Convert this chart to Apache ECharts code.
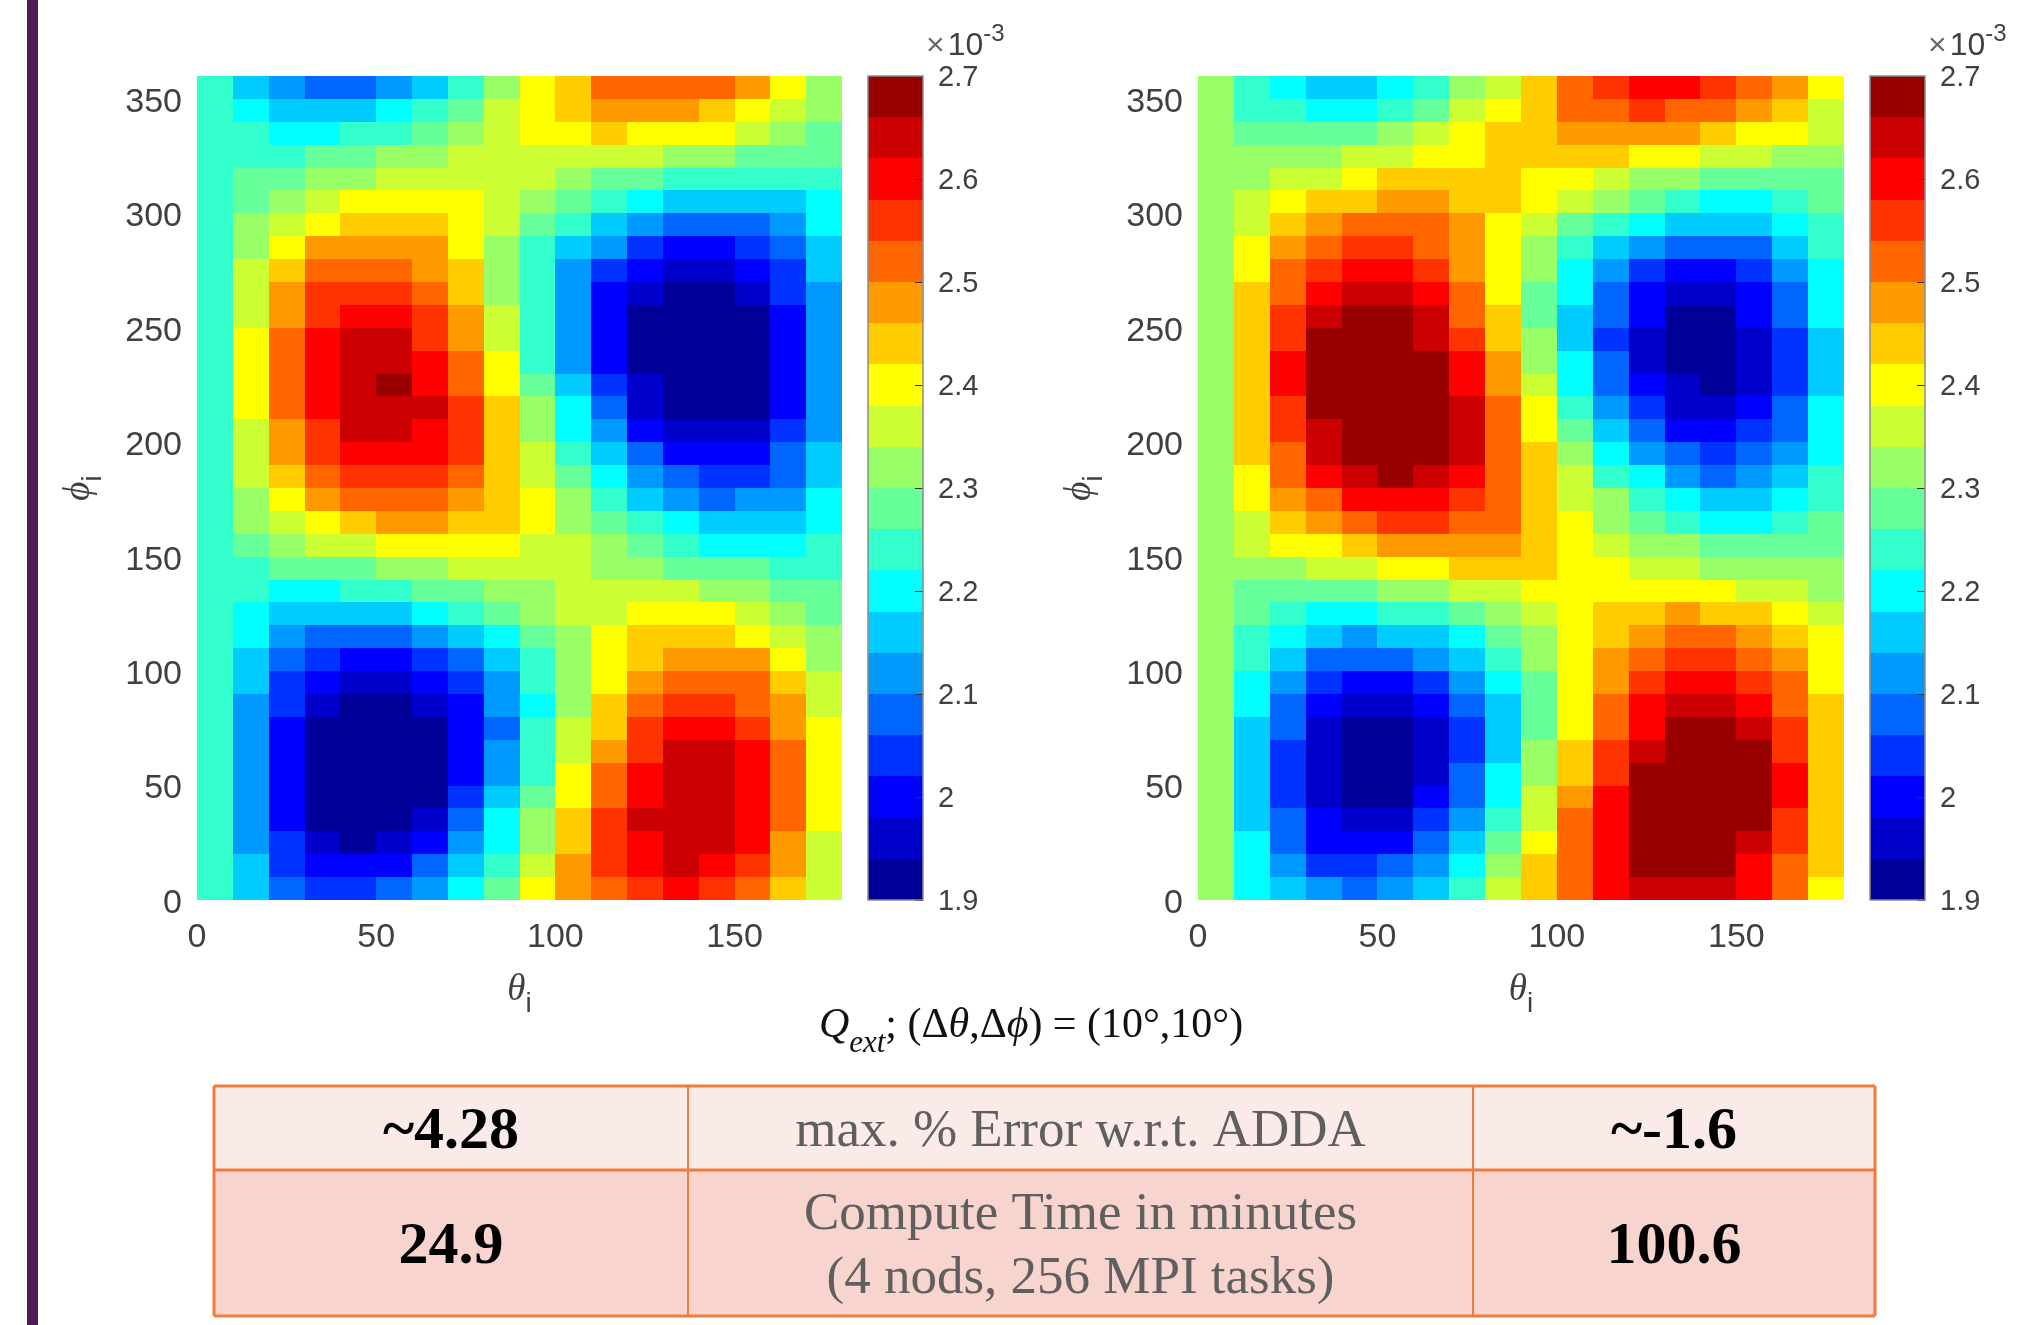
<!DOCTYPE html>
<html><head><meta charset="utf-8">
<style>html,body{margin:0;padding:0;background:#fff}#c{width:2017px;height:1325px}</style>
<script src="https://cdn.jsdelivr.net/npm/echarts@6/dist/echarts.min.js"></script>
</head><body><div id="c"></div>
<script>
// Values are in units of 1e-5; rows run from phi = 350-360 (first) down to phi = 0-10 (last).
const leftValues = [
[224,216,212,208,208,212,216,224,232,240,244,252,252,252,252,248,240,232],
[224,220,216,216,216,220,224,228,236,240,244,248,248,248,244,240,236,232],
[224,224,220,220,224,224,228,232,236,240,240,244,240,240,240,236,232,228],
[224,224,224,228,228,232,232,236,236,236,236,236,236,232,232,228,228,228],
[224,228,228,232,232,236,236,236,236,236,232,228,228,224,224,224,224,224],
[224,228,232,236,240,240,240,240,236,232,228,224,220,216,216,216,216,220],
[224,232,236,240,244,244,244,240,236,228,224,216,212,208,208,208,212,220],
[224,232,240,248,248,248,248,240,232,224,216,212,204,200,200,204,208,216],
[224,236,244,252,252,252,248,244,232,224,212,204,200,196,196,200,204,216],
[224,236,248,256,256,256,252,244,232,224,212,200,196,192,192,196,204,212],
[224,236,248,256,260,260,256,248,236,224,212,200,192,192,192,192,200,212],
[224,240,252,260,264,264,256,248,236,224,212,200,192,192,192,192,200,212],
[224,240,252,260,264,264,260,252,240,224,212,200,192,192,192,192,200,212],
[224,240,252,260,264,268,260,252,240,228,216,204,196,192,192,192,200,212],
[224,240,252,260,264,264,264,256,244,232,220,208,196,192,192,192,200,212],
[224,236,248,256,264,264,260,256,244,232,220,212,200,196,196,196,204,212],
[224,236,248,256,260,260,260,256,244,236,224,216,208,200,200,200,208,216],
[224,236,244,252,256,256,256,252,244,236,228,220,212,208,204,204,208,216],
[224,232,240,248,252,252,252,248,244,240,232,224,216,212,208,212,212,220],
[224,232,236,240,244,248,248,244,244,240,232,228,224,220,216,216,216,220],
[224,228,232,236,236,240,240,240,240,236,236,232,228,224,220,220,220,224],
[224,224,228,228,228,232,232,236,236,236,236,232,232,228,228,228,224,224],
[224,224,220,220,224,224,228,228,232,232,236,236,236,236,232,232,228,228],
[224,220,216,216,216,216,220,224,228,232,236,236,240,240,240,236,232,228],
[224,220,212,208,208,208,212,216,220,228,232,240,244,244,244,240,236,232],
[224,216,208,204,200,200,204,208,216,224,232,240,244,248,248,248,240,232],
[224,216,204,200,196,196,200,204,212,224,232,240,248,252,252,252,244,236],
[224,212,204,196,192,192,196,200,212,220,232,244,252,256,256,252,248,236],
[224,212,200,192,192,192,192,200,208,224,236,244,256,260,260,256,248,240],
[224,212,200,192,192,192,192,200,212,224,236,248,256,264,264,260,252,240],
[224,212,200,192,192,192,192,200,212,224,240,252,260,264,264,260,252,240],
[224,212,200,192,192,192,192,204,216,228,240,252,260,264,264,260,252,240],
[224,212,200,192,192,192,196,208,220,232,244,256,264,264,264,260,252,240],
[224,212,204,196,192,196,200,212,220,232,244,256,260,264,264,260,248,236],
[224,216,204,200,200,200,208,216,224,236,248,256,260,264,260,256,248,236],
[224,216,208,204,204,208,212,220,228,240,248,252,256,260,256,252,244,236]
];
const rightValues = [
[232,224,220,216,216,220,224,232,236,244,252,256,260,260,256,252,248,240],
[232,224,224,220,220,224,228,236,240,244,252,252,256,252,252,248,244,236],
[232,228,228,228,228,232,236,240,244,244,248,248,248,248,244,240,240,236],
[232,232,232,232,236,236,240,240,244,244,244,244,240,240,236,236,232,232],
[232,232,236,236,240,244,244,244,244,240,240,236,232,232,228,228,228,228],
[232,236,240,244,244,248,248,244,244,240,236,232,228,224,220,220,224,228],
[232,236,244,248,252,252,252,248,240,236,228,224,220,216,216,216,220,224],
[232,240,248,252,256,256,252,248,240,232,224,216,212,208,208,208,216,224],
[232,240,252,256,260,260,256,248,240,232,220,212,204,200,200,204,212,220],
[232,244,252,260,264,264,260,252,240,228,220,208,200,196,196,200,208,220],
[232,244,256,264,268,268,264,252,244,228,216,208,200,192,192,200,208,220],
[232,244,256,268,268,268,264,256,244,232,216,204,196,192,192,196,204,216],
[232,244,260,268,268,268,268,260,248,232,220,208,196,192,192,196,204,216],
[232,244,260,268,268,268,268,260,248,236,220,208,200,196,192,196,204,216],
[232,244,256,268,268,268,268,264,252,240,224,212,204,196,196,200,208,220],
[232,244,256,264,268,268,268,264,252,240,228,216,208,200,200,204,208,220],
[232,244,252,264,268,268,268,264,252,244,232,220,212,208,204,208,212,220],
[232,240,252,260,264,268,264,260,252,244,236,224,220,212,208,212,216,224],
[232,240,248,252,260,260,260,256,252,244,236,232,224,220,216,216,220,224],
[232,236,244,248,252,256,256,252,252,244,240,232,228,224,220,220,224,228],
[232,236,240,240,244,248,248,248,248,244,240,236,232,232,228,228,228,228],
[232,232,232,236,236,240,240,244,244,244,240,240,236,236,232,232,232,232],
[232,228,228,228,228,232,232,236,236,240,240,240,240,240,240,236,236,232],
[232,228,224,220,220,224,224,228,232,236,240,244,244,248,244,244,240,236],
[232,224,220,216,212,216,216,220,228,232,240,244,248,252,252,248,244,240],
[232,224,216,208,208,208,212,216,224,232,240,248,252,256,256,252,248,240],
[232,220,212,204,200,200,204,212,220,228,240,248,256,260,260,256,252,240],
[232,220,208,200,196,196,200,208,216,228,240,252,260,264,264,260,252,244],
[232,216,208,196,192,192,196,204,216,228,240,252,260,268,268,264,256,244],
[232,216,204,196,192,192,196,204,216,232,244,256,264,268,268,268,256,244],
[232,216,204,196,192,192,196,208,220,232,244,256,268,268,268,268,260,244],
[232,216,204,196,192,192,200,208,220,236,248,260,268,268,268,268,260,244],
[232,216,208,200,196,196,204,212,224,236,252,260,268,268,268,268,256,244],
[232,220,208,200,200,200,208,216,228,240,252,260,268,268,268,264,256,244],
[232,220,212,204,204,208,212,220,232,244,252,260,268,268,268,260,252,244],
[232,220,216,212,208,212,216,224,236,244,252,260,264,264,264,260,252,240]
];
const binLower = [190,194,198,202,206,210,214,218,222,226,230,234,238,242,246,250,254,258,262,266];
const binColors = ['#000099','#0000CC','#0000FF','#0033FF','#0066FF','#0099FF','#00CCFF','#00FFFF','#33FFCC','#66FF99','#99FF66','#CCFF33','#FFFF00','#FFCC00','#FF9900','#FF6600','#FF3300','#FF0000','#CC0000','#990000'];
const binWidth = 4, cellW = 10, cellH = 10;
const xTicksMax = 180, yTicksMax = 360;
const tableRows = [
  ['~4.28', ['max. % Error w.r.t. ADDA'], '~-1.6'],
  ['24.9', ['Compute Time in minutes', '(4 nods, 256 MPI tasks)'], '100.6']
];

const SANS = '"Liberation Sans", Arial, sans-serif';
const SERIF = '"Liberation Serif", serif';
const TICK = '#404040';

function toCells(rows) {
  const out = [];
  rows.forEach((r, i) => r.forEach((v, j) => out.push([j * cellW, (rows.length - 1 - i) * cellH, v])));
  return out;
}
function snapRect(a, b) {
  const x0 = Math.round(a[0]), x1 = Math.round(b[0]), y0 = Math.round(a[1]), y1 = Math.round(b[1]);
  return { x: x0, y: y1, width: x1 - x0, height: y0 - y1 };
}
function cellItem(params, api) {
  const a = api.coord([api.value(0), api.value(1)]);
  const b = api.coord([api.value(0) + cellW, api.value(1) + cellH]);
  return { type: 'rect', shape: snapRect(a, b), style: { fill: api.visual('color') } };
}
function barItem(params, api) {
  const a = api.coord([0, api.value(1)]);
  const b = api.coord([1, api.value(1) + binWidth]);
  return { type: 'rect', shape: snapRect(a, b), style: { fill: api.visual('color') } };
}
const mapGrids = [
  { left: 197, top: 76, width: 645, height: 824 },
  { left: 1198, top: 76, width: 646, height: 824 }
];
const barGrids = [
  { left: 868, top: 76, width: 55, height: 824 },
  { left: 1870, top: 76, width: 55, height: 824 }
];
const axisName = (g) => '{g|' + g + '}{s|i}';
const nameRich = {
  g: { fontFamily: SERIF, fontStyle: 'italic', fontSize: 37, color: TICK, lineHeight: 46, verticalAlign: 'top' },
  s: { fontFamily: SANS, fontSize: 28, color: TICK, lineHeight: 46, verticalAlign: 'bottom' }
};
const xAxes = [], yAxes = [], seriesList = [], grids = [];
[leftValues, rightValues].forEach((vals, k) => {
  const gi = grids.length;
  grids.push(mapGrids[k]);
  xAxes.push({ gridIndex: gi, type: 'value', min: 0, max: xTicksMax, interval: 50,
    axisLine: { show: false }, axisTick: { show: false }, splitLine: { show: false },
    axisLabel: { fontFamily: SANS, fontSize: 34, color: TICK, margin: 21, showMaxLabel: false },
    name: axisName('θ'), nameLocation: 'middle', nameGap: 72, nameTextStyle: { rich: nameRich } });
  yAxes.push({ gridIndex: gi, type: 'value', min: 0, max: yTicksMax, interval: 50,
    axisLine: { show: false }, axisTick: { show: false }, splitLine: { show: false },
    axisLabel: { fontFamily: SANS, color: TICK, margin: 15, showMaxLabel: false, formatter: '{v|{value}}',
      rich: { v: { fontFamily: SANS, fontSize: 34, color: TICK, padding: [7, 0, 0, 0] } } },
    name: axisName('ϕ'), nameLocation: 'middle', nameGap: 90, nameRotate: 90, nameTextStyle: { rich: nameRich } });
  seriesList.push({ type: 'custom', xAxisIndex: gi, yAxisIndex: gi, renderItem: cellItem,
    data: toCells(vals), encode: { x: 0, y: 1 }, silent: true, animation: false });
  const bi = grids.length;
  grids.push(barGrids[k]);
  xAxes.push({ gridIndex: bi, type: 'value', min: 0, max: 1, show: false });
  yAxes.push({ gridIndex: bi, type: 'value', position: 'right', min: 190, max: 270, interval: 10, z: 10,
    axisLine: { show: false, onZero: false }, splitLine: { show: false },
    axisTick: { show: true, inside: true, length: 8, lineStyle: { color: '#333', width: 1 } },
    axisLabel: { color: TICK, margin: 15, showMinLabel: true, showMaxLabel: true,
      formatter: v => '{v|' + (v / 100) + '}',
      rich: { v: { fontFamily: SANS, fontSize: 29, color: TICK, padding: [3, 0, 0, 0] } } } });
  seriesList.push({ type: 'custom', xAxisIndex: bi, yAxisIndex: bi, renderItem: barItem,
    data: binLower.map(l => [0, l, l + binWidth / 2]), encode: { y: 1 }, silent: true, animation: false, z: 1 });
});

const pieces = binLower.map((l, i) => ({ min: l, max: l + binWidth, color: binColors[i] }));

// Decorations
const graphics = [];
graphics.push({ type: 'rect', shape: { x: 27, y: 0, width: 11, height: 1325 }, style: { fill: '#4F1A56' } });
barGrids.forEach(g => {
  graphics.push({ type: 'rect', z: 50, shape: { x: g.left, y: g.top, width: g.width, height: g.height },
    style: { fill: 'none', stroke: '#8c8c8c', lineWidth: 1.5 } });
  graphics.push({ type: 'text', x: g.left + 58, y: 22, style: {
    text: '{a|×}{b|10}{c|-3}', rich: {
      a: { fontFamily: SANS, fontSize: 32, fill: '#666', padding: [0, 3, 0, 0], verticalAlign: 'bottom', lineHeight: 40 },
      b: { fontFamily: SANS, fontSize: 32, fill: TICK, verticalAlign: 'bottom', lineHeight: 40 },
      c: { fontFamily: SANS, fontSize: 24, fill: TICK, verticalAlign: 'top', lineHeight: 40 } } } });
});
graphics.push({ type: 'text', x: 1031, y: 1032, style: {
  text: '{q|Q}{e|ext}{r|; (Δ}{q|θ}{r|,Δ}{q|ϕ}{r|) = (10°,10°)}', align: 'center', verticalAlign: 'middle', rich: {
    q: { fontFamily: SERIF, fontStyle: 'italic', fontSize: 42, fill: '#111', lineHeight: 54, verticalAlign: 'top' },
    e: { fontFamily: SERIF, fontStyle: 'italic', fontSize: 31, fill: '#111', lineHeight: 54, verticalAlign: 'bottom' },
    r: { fontFamily: SERIF, fontSize: 42, fill: '#111', lineHeight: 54, verticalAlign: 'top' } } } });

const colX = [214, 688, 1473, 1875];
const rowY = [1086, 1170, 1316];
const rowFill = ['#FAEAE8', '#F7D4CD'];
const borderC = '#EC7C3F';
tableRows.forEach((row, r) => {
  const yc = (rowY[r] + rowY[r + 1]) / 2;
  graphics.push({ type: 'rect', shape: { x: colX[0], y: rowY[r], width: colX[3] - colX[0], height: rowY[r + 1] - rowY[r] }, style: { fill: rowFill[r] } });
  [0, 2].forEach(c => graphics.push({ type: 'text', x: (colX[c] + colX[c + 1]) / 2, y: yc + 4, style: {
    text: row[c], align: 'center', verticalAlign: 'middle', fontFamily: SERIF, fontWeight: 'bold', fontSize: 60, fill: '#000' } }));
  graphics.push({ type: 'text', x: (colX[1] + colX[2]) / 2, y: yc + 4, style: {
    text: row[1].join('\n'), align: 'center', verticalAlign: 'middle', fontFamily: SERIF, fontSize: 53, lineHeight: 64, fill: '#5F5F5F' } });
});
rowY.forEach(y => graphics.push({ type: 'line', shape: { x1: colX[0], y1: y, x2: colX[3], y2: y }, style: { stroke: borderC, lineWidth: 3 } }));
colX.forEach((x, i) => graphics.push({ type: 'line', shape: { x1: x, y1: rowY[0], x2: x, y2: rowY[2] }, style: { stroke: borderC, lineWidth: (i === 0 || i === 3) ? 3 : 2 } }));

const chart = echarts.init(document.getElementById('c'), null, { renderer: 'canvas' });
chart.setOption({
  animation: false,
  backgroundColor: '#fff',
  grid: grids, xAxis: xAxes, yAxis: yAxes, series: seriesList,
  visualMap: { type: 'piecewise', show: false, dimension: 2, pieces: pieces, seriesIndex: [0, 1, 2, 3] },
  graphic: { elements: graphics }
});
</script></body></html>
